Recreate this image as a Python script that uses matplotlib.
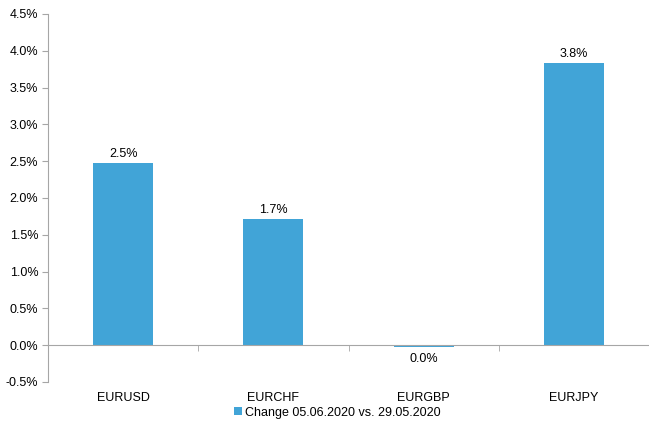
import matplotlib.pyplot as plt
import matplotlib.transforms as mtransforms
import numpy as np

plt.rcParams['font.family'] = ['Liberation Sans', 'DejaVu Sans']

pairs = ["EURUSD", "EURCHF", "EURGBP", "EURJPY"]
change = [2.47, 1.72, -0.02, 3.83]
value_labels = ["2.5%", "1.7%", "0.0%", "3.8%"]
series_name = "Change 05.06.2020 vs. 29.05.2020"

bar_color = '#41A4D7'
axis_color = '#A6A6A6'
fs = 9

fig = plt.figure(figsize=(6.49, 4.23), dpi=100)
ax = fig.add_axes([0.074, 0.097, 0.926, 0.870])

x = np.arange(len(pairs))
bars = ax.bar(x, change, width=0.4, color=bar_color, label=series_name, zorder=2)

ax.set_xlim(-0.5, len(pairs) - 0.5)
ax.set_ylim(-0.5, 4.5)
ax.set_yticks(np.arange(-0.5, 4.51, 0.5))
ax.set_yticklabels([f"{v:.1f}%" for v in np.arange(-0.5, 4.51, 0.5)], fontsize=fs)

for s in ['top', 'right']:
    ax.spines[s].set_visible(False)
ax.spines['left'].set_color(axis_color)
ax.spines['bottom'].set_color(axis_color)
ax.spines['bottom'].set_position(('data', 0))
ax.tick_params(axis='y', color=axis_color, length=4, pad=3)

ax.set_xticks(x)
ax.set_xticklabels([])
ax.tick_params(axis='x', which='major', length=0)
ax.set_xticks(np.arange(0.5, len(pairs) - 0.5, 1), minor=True)
ax.tick_params(axis='x', which='minor', length=4, color=axis_color, direction='out')

# category labels below the plot area
trans = mtransforms.blended_transform_factory(ax.transData, ax.transAxes)
for xi, name in zip(x, pairs):
    ax.text(xi, -0.043, name, transform=trans, ha='center', va='center', fontsize=fs)

# value labels
for b, v, lab in zip(bars, change, value_labels):
    if v >= 0:
        ax.text(b.get_x() + b.get_width() / 2, v + 0.04, lab, ha='center', va='bottom', fontsize=fs)
    else:
        ax.text(b.get_x() + b.get_width() / 2, v - 0.08, lab, ha='center', va='top', fontsize=fs)

fig.legend(loc='center', bbox_to_anchor=(0.52, 0.024), frameon=False, fontsize=fs,
           handlelength=0.6, handleheight=0.6, handletextpad=0.3)

fig.savefig("out.png", dpi=100)
